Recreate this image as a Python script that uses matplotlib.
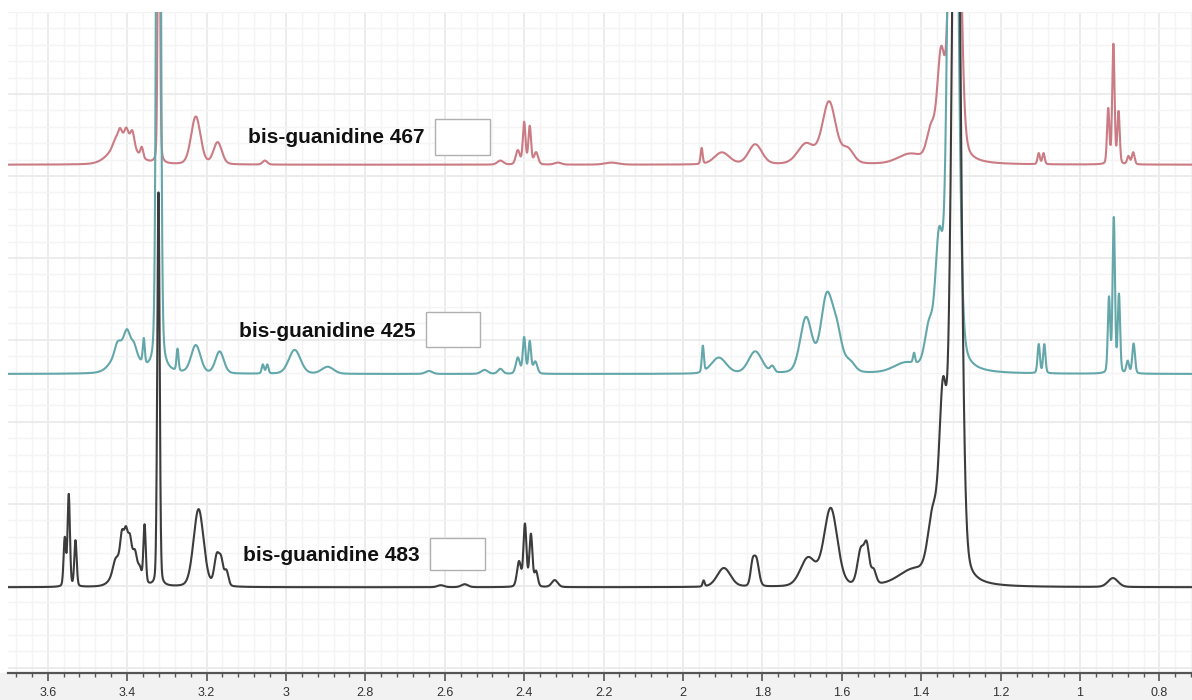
import numpy as np
import matplotlib.pyplot as plt
from matplotlib.patches import Rectangle
from matplotlib.ticker import MultipleLocator, FormatStrFormatter

plt.rcParams['font.family'] = ['Liberation Sans', 'DejaVu Sans']

# peak tables: (shift in ppm, height, line width in ppm)
peaks_467 = [
    (3.410, 24, 0.070), (3.430, 6, 0.015), (3.418, 12, 0.012), (3.402, 13, 0.012),
    (3.387, 16, 0.012), (3.363, 10, 0.008),
    (3.320, 400, 0.006),
    (3.227, 48, 0.028), (3.172, 22, 0.025), (3.053, 4, 0.014),
    (2.460, 4, 0.018), (2.416, 14, 0.012), (2.400, 42, 0.008), (2.386, 38, 0.008),
    (2.370, 12, 0.012), (2.315, 2, 0.020), (2.180, 2, 0.040),
    (1.953, 16, 0.006), (1.902, 12, 0.045), (1.818, 20, 0.040),
    (1.690, 20, 0.050), (1.632, 62, 0.040), (1.585, 14, 0.035),
    (1.430, 9, 0.070), (1.375, 30, 0.025), (1.350, 100, 0.022), (1.315, 600, 0.025),
    (1.104, 11, 0.007), (1.092, 11, 0.007),
    (0.929, 55, 0.007), (0.916, 120, 0.007), (0.903, 52, 0.007),
    (0.878, 8, 0.008), (0.866, 12, 0.008),
]

peaks_425 = [
    (3.405, 32, 0.060), (3.425, 8, 0.015), (3.400, 12, 0.015), (3.383, 8, 0.015),
    (3.358, 25, 0.006),
    (3.321, 1200, 0.010),
    (3.273, 22, 0.006), (3.227, 28, 0.028), (3.167, 22, 0.025),
    (3.058, 9, 0.007), (3.047, 9, 0.007), (2.978, 24, 0.035), (2.895, 7, 0.035),
    (2.640, 3, 0.020), (2.500, 4, 0.020), (2.460, 5, 0.015),
    (2.416, 16, 0.012), (2.400, 36, 0.008), (2.386, 32, 0.008), (2.372, 12, 0.012),
    (1.950, 26, 0.006), (1.910, 16, 0.045), (1.818, 22, 0.040), (1.775, 6, 0.012),
    (1.690, 55, 0.035), (1.638, 75, 0.035), (1.612, 35, 0.030), (1.580, 10, 0.030),
    (1.440, 9, 0.070), (1.418, 10, 0.006), (1.380, 40, 0.025), (1.355, 120, 0.022),
    (1.320, 900, 0.025),
    (1.104, 29, 0.007), (1.090, 29, 0.007),
    (0.927, 75, 0.007), (0.915, 155, 0.007), (0.902, 78, 0.007),
    (0.880, 12, 0.008), (0.865, 30, 0.008),
]

peaks_483 = [
    (3.557, 48, 0.007), (3.547, 92, 0.007), (3.530, 46, 0.007),
    (3.405, 35, 0.050), (3.430, 10, 0.015), (3.413, 22, 0.010), (3.403, 22, 0.010),
    (3.393, 20, 0.010), (3.380, 18, 0.012), (3.368, 10, 0.010), (3.356, 58, 0.007),
    (3.321, 395, 0.007),
    (3.220, 78, 0.030), (3.174, 30, 0.015), (3.163, 22, 0.012), (3.150, 15, 0.012),
    (2.610, 2, 0.020), (2.550, 3, 0.020),
    (2.413, 25, 0.012), (2.398, 62, 0.009), (2.383, 52, 0.009), (2.370, 15, 0.010),
    (2.323, 7, 0.018),
    (1.948, 6, 0.006), (1.897, 19, 0.040), (1.825, 20, 0.012), (1.815, 26, 0.015),
    (1.685, 28, 0.045), (1.628, 78, 0.040),
    (1.552, 35, 0.020), (1.537, 35, 0.015), (1.520, 14, 0.015),
    (1.420, 15, 0.090), (1.370, 60, 0.030), (1.345, 170, 0.022), (1.312, 900, 0.025),
    (0.917, 9, 0.030),
]

labels = ["bis-guanidine 467", "bis-guanidine 425", "bis-guanidine 483"]
ppm_ticks = [3.6, 3.4, 3.2, 3.0, 2.8, 2.6, 2.4, 2.2, 2.0, 1.8, 1.6, 1.4, 1.2, 1.0, 0.8]

# layout
offsets = [510, 300, 86]
colors = ['#cb7b84', '#64a7aa', '#3c3c3c']
label_pos = [(3.096, 537), (3.119, 343), (3.109, 118)]
box_pos = [(2.625, 520, 0.138, 36), (2.648, 327, 0.136, 35), (2.638, 103, 0.139, 32)]


def spectrum(ppm, peaks, eta=0.2):
    y = np.zeros_like(ppm)
    for c, h, w in peaks:
        d = (ppm - c) / w
        y += h * (eta / (1 + 4 * d ** 2) + (1 - eta) * np.exp(-4 * np.log(2) * d ** 2))
    return y


fig = plt.figure(figsize=(11.92, 7.0), dpi=100)
fig.patches.append(Rectangle((0, 0), 1, 27 / 700, transform=fig.transFigure,
                             color='#f2f2f2', zorder=-10))
ax = fig.add_axes([8 / 1192, 27 / 700, 1 - 8 / 1192, 661 / 700])
ax.set_facecolor('white')

ppm = np.linspace(3.75, 0.7, 8000)
for peaks, off, col in zip([peaks_467, peaks_425, peaks_483], offsets, colors):
    ax.plot(ppm, off + spectrum(ppm, peaks), color=col, lw=1.5, zorder=3)

for (x, y), txt in zip(label_pos, labels):
    ax.text(x, y, txt, fontsize=15, fontweight='bold', color='#111111',
            ha='left', va='center', zorder=5)
for x, y, w, h in box_pos:
    ax.add_patch(Rectangle((x, y), -w, h, facecolor='white', edgecolor='#b0b0b0',
                           lw=1.0, zorder=5))

ax.set_xlim(3.70, 0.718)
ax.set_ylim(0, 661)

ax.set_xticks(ppm_ticks)
ax.xaxis.set_major_formatter(FormatStrFormatter('%g'))
ax.xaxis.set_minor_locator(MultipleLocator(0.04))
ax.set_yticks(np.arange(581, -1, -82.25))
ax.set_yticks(np.arange(581 + 82.25, -1, -16.45), minor=True)

ax.grid(True, which='major', color='#ebebeb', lw=1.3, zorder=0)
ax.grid(True, which='minor', color='#f4f4f4', lw=1.0, zorder=0)
ax.set_axisbelow(True)

for s in ['left', 'right', 'top']:
    ax.spines[s].set_visible(False)
ax.spines['bottom'].set_color('#555555')
ax.spines['bottom'].set_linewidth(1.6)

ax.tick_params(axis='y', which='both', left=False, labelleft=False)
ax.tick_params(axis='x', which='major', direction='out', length=6, width=1.2,
               color='#555555', labelsize=9, labelcolor='#333333', pad=4)
ax.tick_params(axis='x', which='minor', direction='out', length=3, width=1.0,
               color='#555555')

fig.savefig('out.png', dpi=100, facecolor='white')
